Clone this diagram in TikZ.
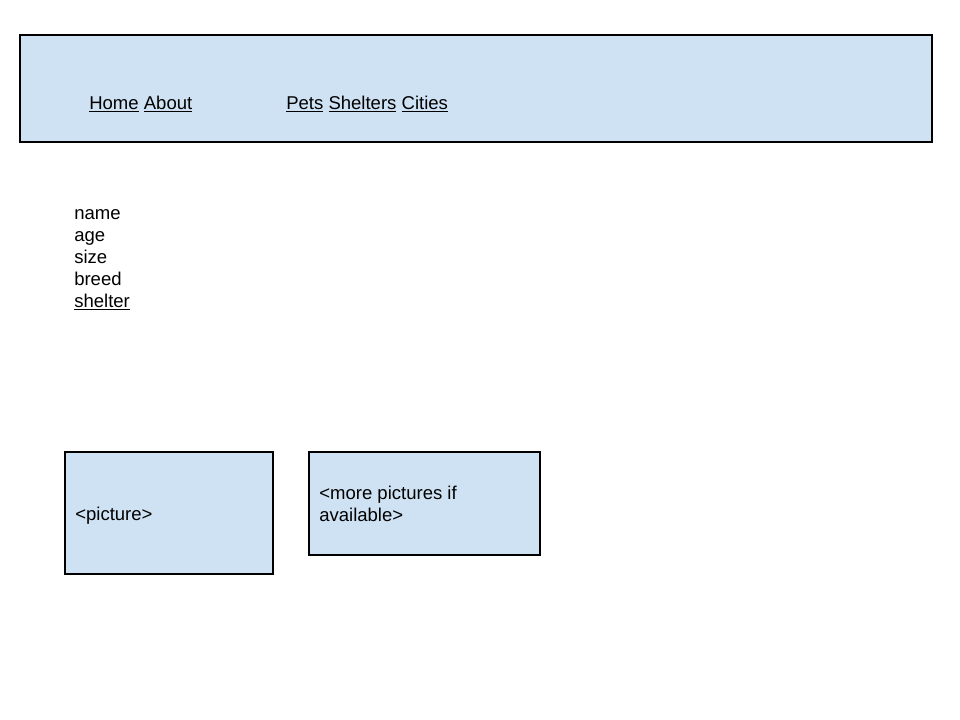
\documentclass[tikz,border=0pt]{standalone}
\usepackage{fontspec}
\setmainfont{Liberation Sans}
\usetikzlibrary{positioning}
\definecolor{boxblue}{HTML}{CFE2F3}

\tikzset{
  panel/.style={draw=black,fill=boxblue,line width=1.2pt},
  txt/.style={anchor=base west,inner sep=0pt,font=\fontsize{13.9}{16.5}\selectfont}
}

\begin{document}
\begin{tikzpicture}[x=0.75pt,y=-0.75pt]
  \useasboundingbox (0,0) rectangle (960,720);
  \fill[white] (0,0) rectangle (960,720);

  % Kopfleiste mit Navigation
  \draw[panel] (20,35) rectangle (932,142);
  \node[txt] (home) at (89,109.5) {\underline{Home} \underline{About}};
  \node[txt] (pets) at (286,109.5) {\underline{Pets} \underline{Shelters} \underline{Cities}};

  % Angaben zum Tier
  \foreach \y/\name/\text in {219.5/name/name,241.5/age/age,263.5/size/size,285.5/breed/breed,307.5/shelter/\underline{shelter}}
  \node[txt] (\name) at (74,\y) {\text};

  % Bilder
  \draw[panel] (65,452) rectangle (273,574);
  \node[txt] (picture) at (75,520.5) {<picture>};
  \draw[panel] (309,452) rectangle (540,555);
  \node[txt,align=left,anchor=north west] (more) at (319,485.5) {<more pictures if\\available>};
\end{tikzpicture}
\end{document}
